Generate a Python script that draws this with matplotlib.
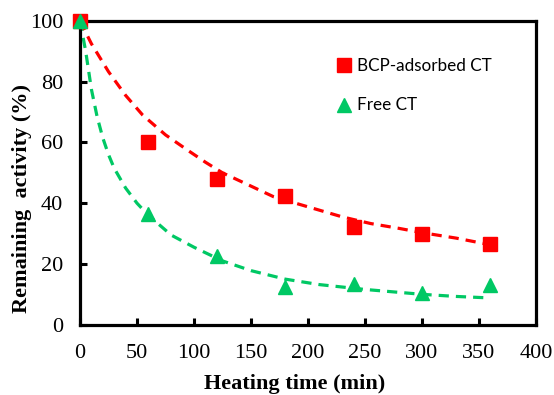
import matplotlib
matplotlib.use("Agg")
from matplotlib import pyplot as plt

# measured points
time_pts = [0, 60, 120, 180, 240, 300, 360]
bcp_act = [100, 60, 48, 42.3, 32, 30, 26.5]
free_act = [100, 36.5, 22.5, 12.5, 13.5, 10.5, 13]

# fitted curves
bcp_fit_t = [0, 10, 25, 40, 55, 75, 95, 110, 125, 145, 170, 200, 230, 255, 280, 300, 330, 360]
bcp_fit_y = [100, 92.5, 83.3, 75.5, 69, 62.5, 57.3, 53.5, 50, 46.5, 42.1, 38.8, 35.5, 33.3, 31.7, 30.3, 28.5, 26.3]
free_fit_t = [0, 5, 10, 15, 20, 25, 30, 40, 50, 60, 80, 100, 125, 150, 180, 210, 250, 300, 330, 360]
free_fit_y = [100, 90, 77.5, 68.5, 61.5, 56, 51.5, 45, 40, 36, 29.5, 25.5, 21, 17.8, 15, 13.2, 11.6, 10, 9.3, 8.8]

red = "#FF0000"
green = "#00C864"
serif = ["Liberation Serif", "DejaVu Serif"]

fig = plt.figure(figsize=(5.54, 3.95), dpi=100)
ax = fig.add_axes([0.1444, 0.178, 0.823, 0.769])

ax.plot(bcp_fit_t, bcp_fit_y, color=red, lw=2.3, ls=(0, (3.2, 2.2)))
ax.plot(free_fit_t, free_fit_y, color=green, lw=2.3, ls=(0, (3.2, 2.2)))
ax.plot(time_pts, bcp_act, "s", color=red, markersize=10, label="BCP-adsorbed CT", clip_on=False, zorder=3)
ax.plot(time_pts, free_act, "^", color=green, markersize=10, label="Free CT", clip_on=False, zorder=4)

ax.set_xlim(0, 400)
ax.set_ylim(0, 100)
ax.set_xticks(range(0, 401, 50))
ax.set_yticks(range(0, 101, 20))
ax.tick_params(direction="in", length=5, width=2.2, labelsize=16)
ax.tick_params(axis="x", pad=14)
ax.tick_params(axis="y", pad=12)
for lab in ax.get_xticklabels() + ax.get_yticklabels():
    lab.set_family(serif)
for sp in ax.spines.values():
    sp.set_linewidth(2.3)

ax.set_xlabel("Heating time (min)", fontsize=16, fontweight="bold", family=serif)
ax.xaxis.set_label_coords(0.471, -0.163)
ax.set_ylabel("Remaining  activity (%)", fontsize=16, fontweight="bold", family=serif, va="center")
ax.yaxis.set_label_coords(-0.127, 0.417)

ax.legend(loc="upper left", bbox_to_anchor=(0.535, 0.93), frameon=False, handlelength=0.6,
          handletextpad=0.45, labelspacing=1.4, prop={"family": "Lato", "size": 12.3})

fig.savefig("out.png", dpi=100)
